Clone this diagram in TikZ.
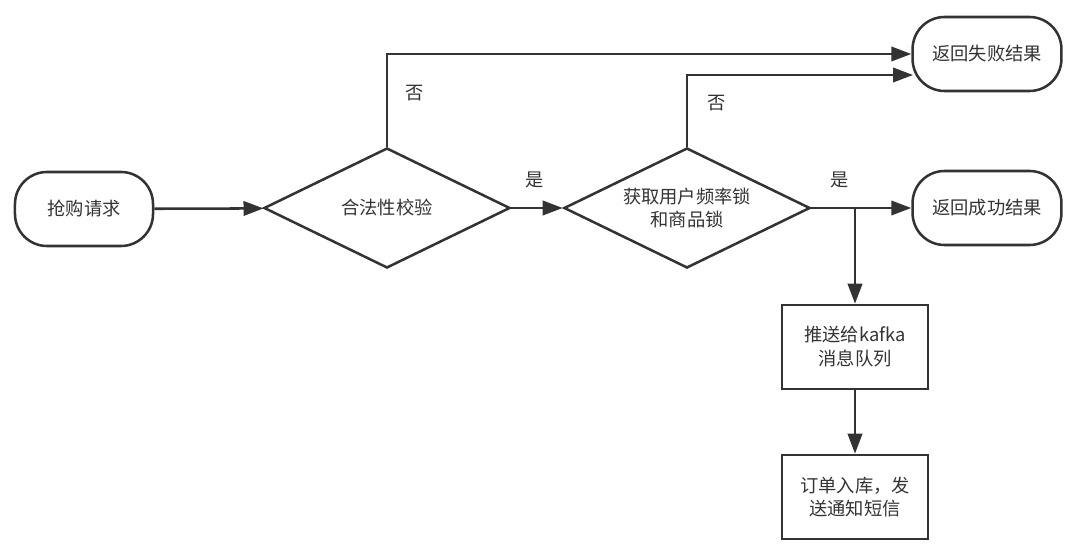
\documentclass[tikz,border=0pt]{standalone}
\usepackage{fontspec}
\setmainfont{Noto Sans CJK SC}
\usepackage{xcolor}
\usepackage{tikz}
\usetikzlibrary{positioning,arrows.meta,calc,shapes.geometric}

\definecolor{lineg}{HTML}{333333}

\begin{document}
\begin{tikzpicture}[x=0.025cm, y=-0.025cm, font=\fontsize{13pt}{17pt}\selectfont,
    every node/.style={text=lineg},
    term/.style={draw=lineg, line width=1.8pt, rounded corners=0.8cm, minimum width=3.45cm, minimum height=1.85cm, inner sep=0pt},
    decide/.style={draw=lineg, line width=1.8pt, diamond, minimum width=6.15cm, minimum height=3cm, inner sep=0pt},
    procbox/.style={draw=lineg, line width=1.8pt, minimum width=3.65cm, minimum height=2.1cm, inner sep=0pt, align=center},
    flow/.style={draw=lineg, line width=1.8pt, -{Triangle[length=0.5cm, width=0.36cm]}},
    lbl/.style={inner sep=1pt, align=center}]
  \useasboundingbox (0,0) rectangle (1080,550);

  \node[term] (req) at (84, 209) {抢购请求};
  \node[decide, label={[lbl]center:合法性校验}] (check) at (387, 208) {};
  \node[decide, label={[lbl]center:获取用户频率锁\\和商品锁}] (lock) at (687, 208) {};
  \node[term, minimum width=3.72cm] (fail) at (987, 54) {返回失败结果};
  \node[term, minimum width=3.72cm] (ok) at (987, 208) {返回成功结果};
  \node[procbox] (kafka) at (855, 347) {推送给kafka\\消息队列};
  \node[procbox] (order) at (855, 497) {订单入库，发\\送通知短信};

  % labels
  \node[lbl] (no1) at (415, 93) {否};
  \node[lbl] (yes1) at (535, 180) {是};
  \node[lbl] (no2) at (717, 103) {否};
  \node[lbl] (yes2) at (840, 180) {是};

  \coordinate (split) at (855, 208);
  \coordinate (fail2) at (913, 75);

  \draw[flow] (req) -- (check);
  \draw[flow] (check) -- (lock);
  \draw[flow] (check.north) |- (fail.west);
  \draw[flow] (lock.north) |- (fail2);
  \draw[flow] (lock.east) -- (ok.west);
  \draw[flow] (split) -- (kafka.north);
  \draw[flow] (kafka) -- (order);
\end{tikzpicture}
\end{document}
